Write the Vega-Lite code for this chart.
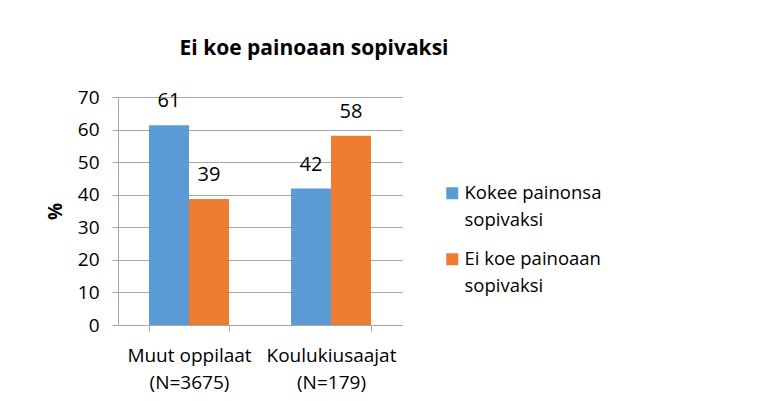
{
  "$schema": "https://vega.github.io/schema/vega-lite/v6.json",
  "autosize": "none",
  "width": 284,
  "height": 228,
  "padding": {"left": 118, "top": 97, "right": 364, "bottom": 76},
  "background": "white",
  "title": {
    "text": "Ei koe painoaan sopivaksi",
    "font": "Open Sans",
    "fontSize": 21,
    "fontWeight": "bold",
    "color": "#000000",
    "anchor": "middle",
    "frame": "group",
    "dx": 54,
    "offset": 29
  },
  "data": {
    "values": [
      {"ryhma": "Muut oppilaat (N=3675)", "sarja": "Kokee painonsa sopivaksi", "osuus": 61.3},
      {"ryhma": "Muut oppilaat (N=3675)", "sarja": "Ei koe painoaan sopivaksi", "osuus": 38.7},
      {"ryhma": "Koulukiusaajat (N=179)", "sarja": "Kokee painonsa sopivaksi", "osuus": 41.9},
      {"ryhma": "Koulukiusaajat (N=179)", "sarja": "Ei koe painoaan sopivaksi", "osuus": 58.1}
    ]
  },
  "encoding": {
    "x": {
      "field": "ryhma",
      "type": "nominal",
      "sort": ["Muut oppilaat (N=3675)", "Koulukiusaajat (N=179)"],
      "scale": {"paddingInner": 0.4366, "paddingOuter": 0.2183},
      "axis": {
        "title": null,
        "labelAngle": 0,
        "tickBand": "extent",
        "labelExpr": "datum.label == 'Muut oppilaat (N=3675)' ? ['Muut oppilaat', '(N=3675)'] : datum.label == 'Koulukiusaajat (N=179)' ? ['Koulukiusaajat', '(N=179)'] : ''",
        "labelLineHeight": 27,
        "labelPadding": 15
      }
    },
    "xOffset": {
      "field": "sarja",
      "type": "nominal",
      "sort": ["Kokee painonsa sopivaksi", "Ei koe painoaan sopivaksi"]
    },
    "y": {
      "field": "osuus",
      "type": "quantitative",
      "scale": {"domain": [0, 70], "nice": false},
      "axis": {
        "title": "%",
        "titleAngle": -90,
        "titleFontWeight": "bold",
        "titleFontSize": 19,
        "titlePadding": 12,
        "values": [0, 10, 20, 30, 40, 50, 60, 70],
        "labelPadding": 13
      }
    },
    "color": {
      "field": "sarja",
      "type": "nominal",
      "sort": ["Kokee painonsa sopivaksi", "Ei koe painoaan sopivaksi"],
      "scale": {"range": ["#5B9BD5", "#ED7D31"]},
      "legend": {
        "title": null,
        "orient": "none",
        "legendX": 325,
        "legendY": 87,
        "symbolType": "square",
        "symbolSize": 144,
        "symbolStrokeWidth": 0,
        "labelExpr": "datum.label == 'Kokee painonsa sopivaksi' ? ['Kokee painonsa', 'sopivaksi'] : ['Ei koe painoaan', 'sopivaksi']",
        "labelOffset": 3,
        "rowPadding": 20,
        "labelFontSize": 18.5,
        "labelFont": "Open Sans",
        "labelColor": "#000000",
        "labelLimit": 300
      }
    }
  },
  "layer": [
    {"mark": {"type": "bar"}},
    {
      "mark": {"type": "text", "baseline": "alphabetic", "dy": -18, "font": "Open Sans", "fontSize": 20, "color": "#000000"},
      "encoding": {
        "text": {"field": "osuus", "type": "quantitative", "format": ".0f"},
        "color": {"value": "#000000"}
      }
    }
  ],
  "config": {
    "view": {"stroke": null},
    "style": {"guide-label": {"lineHeight": 27}},
    "axis": {
      "labelFont": "Open Sans",
      "labelFontSize": 19,
      "labelColor": "#000000",
      "titleFont": "Open Sans",
      "titleColor": "#000000",
      "domainColor": "#A6A6A6",
      "tickColor": "#A6A6A6",
      "gridColor": "#A6A6A6",
      "tickSize": 6
    },
    "axisX": {"grid": false},
    "axisY": {"grid": true, "domain": true}
  }
}
